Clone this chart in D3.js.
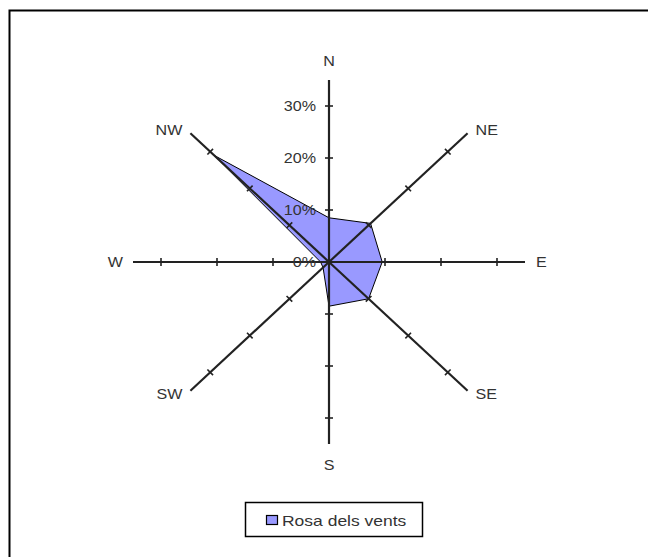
<!DOCTYPE html>
<html><head><meta charset="utf-8">
<script src="https://cdn.jsdelivr.net/npm/d3@7"></script>
<style>html,body{margin:0;padding:0;background:#fff}svg{display:block}</style>
</head><body>
<svg id="c" width="648" height="557"></svg>
<script>
const directions = ["N","NE","E","SE","S","SW","W","NW"];
const values = [0.085, 0.105, 0.095, 0.10, 0.085, 0.015, 0.015, 0.29];
const tickValues = [0, 0.1, 0.2, 0.3];
const tickLabels = ["0%","10%","20%","30%"];
const seriesName = "Rosa dels vents";

const svg = d3.select("#c");
const cx = 329, cy = 262;
const maxV = 0.35;
const rx = d3.scaleLinear().domain([0, maxV]).range([0, 196]);
const ry = d3.scaleLinear().domain([0, maxV]).range([0, 182]);
const ang = d3.scalePoint().domain(directions).range([0, 315]);
const pt = (d, v) => {
  const a = ang(d) * Math.PI / 180;
  return [cx + rx(v) * Math.sin(a), cy - ry(v) * Math.cos(a)];
};
const FONT = "Liberation Sans, Arial, sans-serif";
function label(x, y, txt, anchor, size, sx) {
  svg.append("g").attr("transform", `translate(${x},${y}) scale(${sx || 1.15},1)`)
    .append("text").attr("x", 0).attr("y", 0).attr("text-anchor", anchor)
    .attr("font-family", FONT).attr("font-size", size).attr("fill", "#333").text(txt);
}

// frame
svg.append("rect").attr("x", 9.5).attr("y", 10.5).attr("width", 700).attr("height", 600)
  .attr("fill", "none").attr("stroke", "#000").attr("stroke-width", 2);

// polygon
const poly = directions.map((d, i) => pt(d, values[i]));
svg.append("path").attr("d", d3.line()(poly) + "Z")
  .attr("fill", "#9999ff").attr("stroke", "#000").attr("stroke-width", 1);

// axes
const ag = svg.append("g");
directions.forEach(d => {
  const [x2, y2] = pt(d, maxV);
  ag.append("line").attr("x1", cx).attr("y1", cy).attr("x2", x2).attr("y2", y2)
    .attr("stroke", "#222").attr("stroke-width", 2.2);
  const a = ang(d) * Math.PI / 180;
  tickValues.slice(1).forEach(t => {
    const [tx, ty] = pt(d, t);
    const px = Math.cos(a) * 4, py = Math.sin(a) * 4;
    ag.append("line").attr("x1", tx - px).attr("y1", ty - py).attr("x2", tx + px).attr("y2", ty + py)
      .attr("stroke", "#222").attr("stroke-width", 1.6);
  });
});

// tick labels
tickValues.forEach((t, i) => {
  const [tx, ty] = pt("N", t);
  label(tx - 13, ty + 5, tickLabels[i], "end", 14);
});

// direction labels
const lblPos = {N:[0,-19], NE:[8,-3], E:[11,0], SE:[8,3], S:[0,21], SW:[-8,3], W:[-10,0], NW:[-8,-3]};
const anchor = {N:"middle", NE:"start", E:"start", SE:"start", S:"middle", SW:"end", W:"end", NW:"end"};
directions.forEach(d => {
  const [x, y] = pt(d, maxV);
  label(x + lblPos[d][0], y + lblPos[d][1] + 5, d, anchor[d], 14);
});

// legend
const lg = svg.append("g");
lg.append("rect").attr("x", 245.5).attr("y", 502.5).attr("width", 177).attr("height", 34)
  .attr("fill", "#fff").attr("stroke", "#000").attr("stroke-width", 1.5);
lg.append("rect").attr("x", 266.5).attr("y", 515.5).attr("width", 11).attr("height", 9)
  .attr("fill", "#9999ff").attr("stroke", "#000").attr("stroke-width", 1.2);
label(282, 526, seriesName, "start", 14, 1.25);
</script>
</body></html>
